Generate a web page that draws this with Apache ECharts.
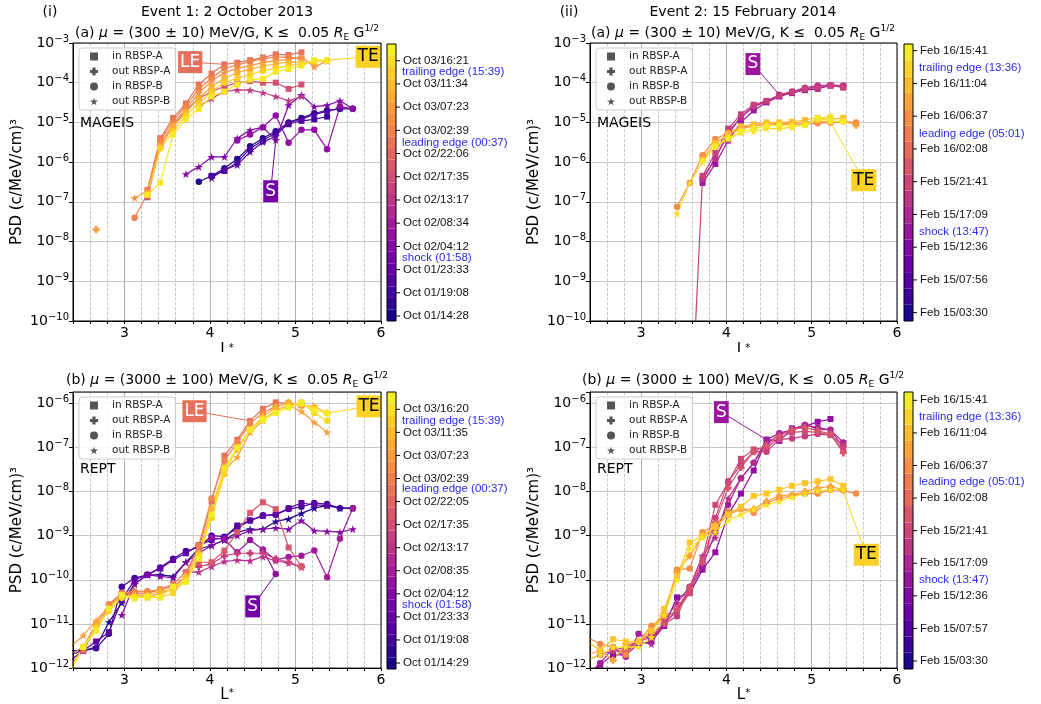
<!DOCTYPE html>
<html>
<head>
<meta charset="utf-8">
<script src="https://cdn.jsdelivr.net/npm/echarts@6/dist/echarts.min.js"></script>
<style>html,body{margin:0;padding:0;background:#fff}#chart{width:1041px;height:704px}</style>
</head>
<body>
<div id="chart"></div>
<script>
const _ = null;
// L* bins: MAGEIS panels, and REPT panels (one extra bin below the axis start)
const lStar = [2.52, 2.67, 2.82, 2.97, 3.12, 3.27, 3.42, 3.57, 3.72, 3.87, 4.02, 4.17, 4.32, 4.47, 4.62, 4.77, 4.92, 5.07, 5.22, 5.37, 5.52, 5.67];
const lStarR = [2.37, 2.52, 2.67, 2.82, 2.97, 3.12, 3.27, 3.42, 3.57, 3.72, 3.87, 4.02, 4.17, 4.32, 4.47, 4.62, 4.77, 4.92, 5.07, 5.22, 5.37, 5.52, 5.67];

// Event 1, MAGEIS, 300 MeV/G
const m1_e1 = [_,_,_,_,_,_,_,_,_, 3.2e-7, 4.5e-7, 7e-7, 1.2e-6, 2.5e-6, 4e-6, 6e-6, 1e-5, 1.3e-5, 1.7e-5, 2e-5, 2.2e-5, 2.2e-5];
const m1_e2 = [_,_,_,_,_,_,_,_,_,_, 4.5e-7, 6e-7, 1e-6, 2.2e-6, 3.5e-6, 5.5e-6, 9e-6, 1.1e-5, 1.2e-5, 1.4e-5];
const m1_e3 = [_,_,_,_,_,_,_,_,_,_, 4e-7, 6.5e-7, 8.5e-7, 1.8e-6, 3.2e-6, 4.5e-6, 1e-5, 1.2e-5, 1.6e-5, 1.9e-5, 2.3e-5];
const m1_e4 = [_,_,_,_,_,_,_,_, 5e-7, 7.6e-7, 1.35e-6, 1.35e-6, 4e-6, 6.4e-6, 7.6e-6, 3.6e-6, 2.7e-5, 4.9e-5, 2.5e-5, 2.7e-5, 3.5e-5, 2.2e-5];
const m1_e5 = [_,_,_,_,_,_,_,_,_,_,_,_, 3.5e-6, 5e-6, 7.6e-6, 1.5e-5, 3.1e-6, 6.5e-6, 6.5e-6, 2.1e-6, 2.5e-5, 2.2e-5];
const m1_p2 = [_,_,_,_,_,_,_,_,_, 2.5e-5, 4e-5, 6e-5, 6.6e-5, 6.5e-5, 5.6e-5, 4.5e-5, 3.5e-5, 4.5e-5];
const m1_p1 = [_,_,_,_,_, 1.3e-7, 2.5e-6, 8e-6, 2e-5, 4e-5, 6e-5, 8e-5, 1e-4, 1.1e-4, 1e-4, 1e-4, 7e-5, 9e-5];
const m1_l1 = [_,_,_,_,_, 2e-7, 4e-6, 1.3e-5, 3e-5, 9e-5, 1.7e-4, 2.9e-4, 3.2e-4, 3.7e-4, 4.3e-4, 5.2e-4, 5e-4, 5.8e-4];
const m1_l2 = [_,_,_,_, 4e-8, 1.6e-7, 3.5e-6, 1.1e-5, 2.6e-5, 7e-5, 1.3e-4, 2.3e-4, 2.8e-4, 3.4e-4, 4e-4, 4.4e-4, 4.4e-4, 4e-4];
const m1_l3 = [_,_,_,_, 1.25e-7, 1.9e-7, 3e-6, 9e-6, 2.2e-5, 5.5e-5, 1.1e-4, 1.8e-4, 2.3e-4, 2.7e-4, 3.2e-4, 3.6e-4, 3.8e-4, 4.5e-4, 2.5e-4, 3.5e-4];
const m1_l4 = [_, 2e-8];
const m1_l5 = [_,_,_,_,_, 1.6e-7, 2.5e-6, 8e-6, 1.8e-5, 4e-5, 8e-5, 1.3e-4, 1.8e-4, 2.2e-4, 2.6e-4, 3e-4, 3.3e-4, 3.2e-4, 3.3e-4];
const m1_l6 = [_,_,_,_,_, 1.5e-7, 2.2e-6, 6e-6, 1.5e-5, 3e-5, 6e-5, 1e-4, 1.3e-4, 1.6e-4, 2e-4, 2.3e-4, 2.7e-4, 3e-4, 3.5e-4, 3.5e-4];
const m1_l7 = [_,_,_,_,_, 1.5e-7, 3e-7, 5e-6, 1.2e-5, 2.2e-5, 4.5e-5, 6e-5, 9e-5, 1.2e-4, 1.25e-4, 1.9e-4, 2.2e-4, 2.7e-4, 3.7e-4, 3.7e-4];

// Event 2, MAGEIS, 300 MeV/G
const m2_u1 = [_,_,_,_,_,_,_,_, 3e-7, 9e-7, 3.5e-6, 1e-5, 2e-5, 3.2e-5, 4.5e-5, 5.5e-5, 6.5e-5, 7e-5, 8.5e-5, 8e-5];
const m2_u4 = [_,_,_,_,_,_,_,_, 3.5e-7, 1.3e-6, 5e-6, 1.4e-5, 2.6e-5, 3.3e-5, 4.7e-5, 5.5e-5, 7e-5, 8e-5, 8.5e-5, 8e-5];
const m2_u2 = [_,_,_,_,_,_,_,_, 4e-7, 1.2e-6, 6e-6, 1.3e-5, 2.5e-5, 3.4e-5, 5e-5, 6e-5, 7.5e-5, 8.5e-5, 8.8e-5, 8.5e-5];
const m2_u3 = [_,_,_,_,_,_,_, 7e-14, 4.5e-7, 1.7e-6, 7e-6, 1.6e-5, 2.8e-5, 3.5e-5, 4.8e-5, 5.8e-5, 7e-5, 7.5e-5, 8.5e-5, 7.5e-5];
const m2_d1 = [_,_,_,_,_,_, 7.5e-8, 3e-7, 1.5e-6, 3.8e-6, 5.5e-6, 7.5e-6, 8.5e-6, 9e-6, 9e-6, 9e-6, 9e-6, 9.5e-6, 1e-5, 1.05e-5, 1e-5];
const m2_d2 = [_,_,_,_,_,_,_,_, 1.2e-6, 3e-6, 5e-6, 7e-6, 8e-6, 9e-6, 9.5e-6, 9.5e-6, 1e-5, 1.1e-5, 1e-5, 1.1e-5, 8.5e-6];
const m2_d3 = [_,_,_,_,_,_,_,_,_, 3e-6, 5e-6, 8e-6, 9e-6, 1e-5, 1e-5, 1.05e-5, 1.15e-5, 1.3e-5, 1.2e-5, 1.3e-5];
const m2_d4 = [_,_,_,_,_,_, 5e-8, 3e-7, 1e-6, 2.5e-6, 3.8e-6, 5.5e-6, 6e-6, 7e-6, 7e-6, 7.5e-6, 9e-6, 1.2e-5, 1.5e-5];
const m2_d5 = [_,_,_,_,_,_,_,_, 1.1e-6, 2.5e-6, 4e-6, 6e-6, 7e-6, 8e-6, 8.5e-6, 8e-6, 8.5e-6, 1.25e-5, 1.1e-5, 1.05e-5];

// Event 1, REPT, 3000 MeV/G (first value at L*=2.37)
const r1_e1 = [2.5e-12, 2.5e-12, 3e-12, 1.1e-11, 3e-11, 8e-11, 1.3e-10, 1.3e-10, 1.2e-10, 2.5e-10, 5e-10, 6e-10, 8e-10, 1.2e-9, 1.4e-9, 1.4e-9, 2.1e-9, 2.4e-9, 3.2e-9, 4.2e-9, 4.8e-9, 4.2e-9, 4.2e-9];
const r1_e2 = [2e-12, 2.5e-12, 2.8e-12, 6e-12, 7e-11, 1.1e-10, 1.3e-10, 1.9e-10, 3e-10, 4.5e-10, 5.5e-10, 1e-9, 9.5e-10, 1.5e-9, 2.2e-9, 2.9e-9, 3e-9, 4e-9, 4.5e-9, 5.5e-9, 5.2e-9, 4.2e-9, 4.2e-9];
const r1_e3 = [1.5e-12, 2.5e-12, 4e-12, 6.5e-12, 3.5e-11, 1e-10, 1.3e-10, 1.8e-10, 2.8e-10, 4e-10, 6e-10, 8e-10, 9e-10, 1.7e-9, 2.2e-9, 2.8e-9, 3e-9, 4.2e-9, 5.5e-9, 5e-9, 4.8e-9];
const r1_e4 = [_,_,_,_, 1.6e-11, 8e-11, 1.3e-10, 1.2e-10, 1.1e-10, 2.5e-10, 4e-10, 6e-10, 8e-10, 1e-9, 1.3e-9, 1.4e-9, 1.5e-9, 1.4e-9, 2.2e-9, 1.3e-9, 1.25e-9, 1.2e-9, 1.4e-9];
const r1_e5 = [_,_,_,_,_,_,_,_,_,_, 6e-10, 9e-10, 8.3e-10, 4.2e-10, 8e-10, 4.8e-10, 1.35e-10];
const r1_e6 = [_,_,_,_,_,_,_,_,_,_,_,_,_,_,_, 4.8e-10, 2.8e-10, 3.3e-10, 3.5e-10, 4.6e-10, 1.15e-10, 8.5e-10, 4.2e-9];
const r1_m3 = [_,_,_,_,_,_,_,_,_, 1.5e-10, 1.5e-10, 2e-10, 2.6e-10, 2.8e-10, 2.7e-10, 3.3e-10, 2.7e-10, 2.4e-10, 1.9e-10];
const r1_m2 = [_,_,_,_,_,_,_,_,_,_, 2e-10, 2.3e-10, 3.5e-10, 4e-10, 4e-10, 4e-10, 3e-10, 2.5e-10, 2e-10];
const r1_m1 = [_,_,_,_,_,_,_,_,_,_, 2.5e-10, 2.5e-10, 4.6e-10, 1.2e-9, 3.3e-9, 5.7e-9, 4e-9, 5.4e-10, 2e-10];
const r1_l1 = [1.2e-12, 2.5e-12, 8e-12, 2.5e-11, 5e-11, 5e-11, 5e-11, 6e-11, 8e-11, 1.5e-10, 5e-10, 6e-9, 6.5e-8, 1.5e-7, 4e-7, 7.5e-7, 1.05e-6, 1e-6, 9e-7];
const r1_l2 = [2e-12, 3e-12, 1e-11, 2.8e-11, 5e-11, 5.5e-11, 5.5e-11, 6e-11, 7e-11, 1.2e-10, 6e-10, 7e-9, 5e-8, 1.3e-7, 3.5e-7, 6e-7, 8.5e-7, 1e-6, 9e-7];
const r1_l3 = [3e-12, 5.5e-12, 1.2e-11, 2.5e-11, 4.5e-11, 4.5e-11, 4e-11, 5e-11, 6e-11, 1e-10, 3e-10, 3e-9, 3e-8, 6e-8, 2.2e-7, 4e-7, 7e-7, 9e-7, 6.5e-7, 3.7e-7, 2.2e-7];
const r1_l4 = [_,_, 9e-12, 2e-11, 4e-11, 4.5e-11, 4.5e-11, 5.5e-11, 6e-11, 1.2e-10, 4e-10, 4e-9, 3.5e-8, 9e-8, 2.5e-7, 5e-7, 8e-7, 1.05e-6, 9e-7, 8.5e-7, 6e-7];
const r1_l5 = [1e-12, 3e-12, 8e-12, 2e-11, 4e-11, 4e-11, 4e-11, 4e-11, 5e-11, 1e-10, 3.5e-10, 2.5e-9, 2.5e-8, 1e-7, 2.5e-7, 4.5e-7, 6e-7, 8.5e-7, 1.05e-6, 6e-7, 4e-7];
const r1_l6 = [8e-13, 3e-12, 7e-12, 2.2e-11, 4.5e-11, 3.8e-11, 4.2e-11, 4e-11, 7e-11, 9e-11, 3e-10, 3e-9, 3.3e-8, 1e-7, 2.5e-7, 4.2e-7, 6e-7, 8e-7, 1e-6, 7e-7, 6e-7];

// Event 2, REPT, 3000 MeV/G (first value at L*=2.37)
const r2_u1 = [6e-13, 1.2e-12, 2e-12, 2e-12, 3.5e-12, 4e-12, 9e-12, 4e-11, 5e-11, 1.7e-10, 4.2e-10, 3e-9, 9e-9, 3e-8, 1.5e-7, 1.4e-7, 2.7e-7, 3e-7, 3.8e-7, 4.4e-7];
const r2_u2 = [7e-13, 1.3e-12, 2.8e-12, 1.8e-12, 6e-12, 4.5e-12, 1e-11, 2e-11, 6e-11, 2e-10, 1.2e-9, 5e-9, 2e-8, 4.5e-8, 1.5e-7, 2.1e-7, 2.5e-7, 3.2e-7, 2.8e-7, 2.5e-7, 1.3e-7];
const r2_u3 = [_,_, 2.5e-12, 3e-12, 4e-12, 3.5e-12, 1.2e-11, 3e-11, 7e-11, 3.5e-10, 9e-10, 7e-9, 2e-8, 4.5e-8, 1.2e-7, 2e-7, 2.5e-7, 3.3e-7, 2.6e-7, 2.5e-7, 1e-7];
const r2_u4 = [1.5e-12, 2e-12, 2.5e-12, 2.5e-12, 4e-12, 5e-12, 1e-11, 1.5e-11, 7e-11, 2.5e-10, 2.5e-9, 1.7e-8, 4e-8, 8e-8, 8e-8, 1.5e-7, 1.6e-7, 1.8e-7, 2e-7, 1.9e-7, 1.1e-7];
const r2_u5 = [_,_,_,_,_,_, 1.4e-11, 2e-11, 5e-11, 3e-10, 5e-9, 1.6e-8, 5.5e-8, 9e-8, 1e-7, 1.6e-7, 2.2e-7, 2.3e-7, 2.2e-7, 1.9e-7, 9e-8];
const r2_u6 = [_,_,_, 2.5e-12, 4e-12, 6e-12, 1e-11, 2.2e-11, 6.5e-11, 2.5e-10, 2e-9, 1.2e-8, 3.5e-8, 8e-8, 1.1e-7, 1.8e-7, 2.6e-7, 2.8e-7, 2.4e-7, 2e-7, 7.5e-8];
const r2_d1 = [5e-12, 3.5e-12, 3e-12, 2e-12, 4e-12, 9e-12, 1.5e-11, 1.7e-10, 1.8e-10, 1.2e-9, 1.8e-9, 3.5e-9, 4e-9, 3.3e-9, 5.5e-9, 7e-9, 8e-9, 9e-9, 9e-9, 1.1e-8, 1.05e-8, 9e-9];
const r2_d2 = [2e-12, 2.5e-12, 1.5e-12, 3.5e-12, 4e-12, 7e-12, 1.7e-11, 1.5e-10, 3.5e-10, 1e-9, 1.5e-9, 3e-9, 4e-9, 4e-9, 6e-9, 8e-9, 8.5e-9, 1e-8, 1.2e-8, 1.3e-8, 1.1e-8];
const r2_d3 = [4e-12, 2.5e-12, 4.5e-12, 4e-12, 4e-12, 7e-12, 2.2e-11, 1.2e-10, 7e-10, 1e-9, 1.6e-9, 3e-9, 4.5e-9, 8e-9, 9e-9, 1.1e-8, 1.35e-8, 1.55e-8, 1.7e-8, 1.9e-8, 1.35e-8];
const r2_d4 = [1.5e-12, 2e-12, 3e-12, 3e-12, 3e-12, 5e-12, 1.6e-11, 1e-10, 5e-10, 9e-10, 1.2e-9, 2.2e-9, 3e-9, 4e-9, 5e-9, 6e-9, 7.5e-9, 9e-9, 1.05e-8, 1.1e-8, 1.1e-8];

// [values, time position on colour bar (0..1), marker]
const runs1 = [[m1_e1,.04,'ci'],[m1_e2,.1,'sq'],[m1_e3,.15,'st'],[m1_e4,.26,'st'],[m1_e5,.3,'ci'],[m1_p2,.45,'st'],[m1_p1,.53,'sq'],
  [m1_l1,.64,'sq'],[m1_l2,.69,'ci'],[m1_l3,.74,'st'],[m1_l4,.77,'pl'],[m1_l5,.82,'sq'],[m1_l6,.9,'ci'],[m1_l7,.96,'sq']];
const runs2 = [[m2_u1,.33,'sq'],[m2_u4,.38,'st'],[m2_u2,.43,'ci'],[m2_u3,.48,'sq'],
  [m2_d1,.72,'ci'],[m2_d2,.78,'pl'],[m2_d3,.86,'sq'],[m2_d4,.93,'st'],[m2_d5,.97,'ci']];
const runs3 = [[r1_e1,.04,'st'],[r1_e2,.1,'ci'],[r1_e3,.17,'sq'],[r1_e4,.27,'st'],[r1_e5,.31,'ci'],[r1_e6,.35,'ci'],
  [r1_m3,.42,'st'],[r1_m2,.48,'pl'],[r1_m1,.56,'sq'],
  [r1_l1,.64,'sq'],[r1_l2,.7,'ci'],[r1_l3,.78,'st'],[r1_l4,.84,'pl'],[r1_l5,.92,'ci'],[r1_l6,.97,'sq']];
const runs4 = [[r2_u1,.3,'sq'],[r2_u2,.36,'ci'],[r2_u3,.41,'st'],[r2_u4,.47,'ci'],[r2_u5,.51,'sq'],[r2_u6,.55,'pl'],
  [r2_d1,.72,'ci'],[r2_d2,.78,'pl'],[r2_d3,.88,'sq'],[r2_d4,.95,'st']];

// colour bar labels (bottom to top) and their ranges in label units
const cb1Ticks = ['Oct 01/14:28','Oct 01/19:08','Oct 01/23:33','Oct 02/04:12','Oct 02/08:34','Oct 02/13:17','Oct 02/17:35','Oct 02/22:06','Oct 03/02:39','Oct 03/07:23','Oct 03/11:34','Oct 03/16:21'];
const cb2Ticks = ['Feb 15/03:30','Feb 15/07:56','Feb 15/12:36','Feb 15/17:09','Feb 15/21:41','Feb 16/02:08','Feb 16/06:37','Feb 16/11:04','Feb 16/15:41'];
const cb3Ticks = ['Oct 01/14:29','Oct 01/19:08','Oct 01/23:33','Oct 02/04:12','Oct 02/08:35','Oct 02/13:17','Oct 02/17:35','Oct 02/22:05','Oct 03/02:39','Oct 03/07:23','Oct 03/11:35','Oct 03/16:20'];
const cb4Ticks = ['Feb 15/03:30','Feb 15/07:57','Feb 15/12:36','Feb 15/17:09','Feb 15/21:41','Feb 16/02:08','Feb 16/06:37','Feb 16/11:04','Feb 16/15:41'];
const cb1Notes = [['shock (01:58)', 2.51], ['leading edge (00:37)', 7.46], ['trailing edge (15:39)', 10.5]];
const cb2Notes = [['shock (13:47)', 2.46], ['leading edge (05:01)', 5.46], ['trailing edge (13:36)', 7.49]];
const cb3Notes = [['shock (01:58)', 2.53], ['leading edge (00:37)', 7.55], ['trailing edge (15:39)', 10.5]];
const cb4Notes = [['shock (13:47)', 2.5], ['leading edge (05:01)', 5.49], ['trailing edge (13:36)', 7.48]];
const cbRange = [[-0.215, 11.72], [-0.255, 8.204], [-0.26, 11.75], [-0.245, 8.255]];
const cbBands = [24, 17, 24, 17];

// ---------- styling helpers ----------
const FONT = 'DejaVu Sans';
const PLUS = 'path://M3,0H7V3H10V7H7V10H3V7H0V3H3Z';
const STAR = 'path://M100,0L122,69L195,69L136,112L159,181L100,138L41,181L64,112L5,69L78,69Z';
const SYM = {sq: 'rect', pl: PLUS, ci: 'circle', st: STAR};
const SSZ = {sq: 6, pl: 7, ci: 6.5, st: [8.5, 8]};
const stops = ['#0d0887','#41049d','#6a00a8','#8f0da4','#b12a90','#cc4778','#e16462','#f2844b','#fca636','#fcce25','#f0f921'];
function hex(h) { return [1, 3, 5].map(i => parseInt(h.substr(i, 2), 16)); }
function plasma(t) {
  t = Math.max(0, Math.min(1, t));
  const p = t * 10, i = Math.min(9, Math.floor(p)), f = p - i;
  const a = hex(stops[i]), b = hex(stops[i + 1]);
  return 'rgb(' + a.map((c, j) => Math.round(c + (b[j] - c) * f)).join(',') + ')';
}
function powLabel(v) {
  const e = Math.log10(v), r = Math.round(e);
  if (Math.abs(e - r) > 1e-6) return '';
  return '{b|10}{e|' + String(r).replace('-', '\u2212') + '}';
}
function intLabel(v) { return Math.abs(v - Math.round(v)) < 1e-6 ? String(Math.round(v)) : ''; }

const plots = [
  {left: 73, top: 43, width: 308, height: 278, ymin: 1e-10, ymax: 1e-3},
  {left: 590, top: 43, width: 307, height: 278, ymin: 1e-10, ymax: 1e-3},
  {left: 73, top: 392, width: 308, height: 277, ymin: 1e-12, ymax: 1.8e-6},
  {left: 590, top: 392, width: 307, height: 277, ymin: 1e-12, ymax: 1.8e-6}
];
const bars = [
  {left: 387, top: 44, width: 9, height: 277},
  {left: 904, top: 44, width: 9, height: 277},
  {left: 387, top: 392, width: 9, height: 277},
  {left: 904, top: 392, width: 9, height: 277}
];
const allRuns = [runs1, runs2, runs3, runs4];
const allL = [lStar, lStar, lStarR, lStarR];
const allTicks = [cb1Ticks, cb2Ticks, cb3Ticks, cb4Ticks];
const allNotes = [cb1Notes, cb2Notes, cb3Notes, cb4Notes];

// boxed labels: [panel, text, box L, box PSD, target L, target PSD, background, text colour]
const LEc = '#e6705c', TEc = '#fbd125', S1c = '#7201a8', S2c = '#9c179e';
const boxes = [
  [0, 'LE', 3.77, 3.3e-4, 4.17, 2.9e-4, LEc, '#fff'],
  [0, 'TE', 5.85, 4.5e-4, 5.37, 3.7e-4, TEc, '#000'],
  [0, 'S', 4.71, 1.85e-7, 4.77, 3.6e-6, S1c, '#fff'],
  [1, 'S', 4.31, 2.95e-4, 4.62, 5e-5, S2c, '#fff'],
  [1, 'TE', 5.61, 3.5e-7, 5.22, 1e-5, TEc, '#000'],
  [2, 'LE', 3.82, 6.6e-7, 4.47, 4e-7, LEc, '#fff'],
  [2, 'TE', 5.86, 8.5e-7, 5.37, 6e-7, TEc, '#000'],
  [2, 'S', 4.5, 2.5e-11, 4.77, 1.35e-10, S1c, '#fff'],
  [3, 'S', 3.94, 6.3e-7, 4.47, 1.5e-7, S2c, '#fff'],
  [3, 'TE', 5.64, 3.7e-10, 5.37, 1e-8, TEc, '#000']
];

const grid = [], xAxis = [], yAxis = [], series = [], legend = [];

plots.forEach((p, i) => {
  grid.push({left: p.left, top: p.top, width: p.width, height: p.height, show: true, borderColor: '#000', borderWidth: 1, backgroundColor: 'transparent', z: 10});
  xAxis.push({
    gridIndex: i, type: 'value', min: 2.4, max: 6, interval: 0.2,
    name: 'L{s|*}', nameLocation: 'middle', nameGap: i < 2 ? 22 : 19,
    nameTextStyle: {fontSize: 15, color: '#000', fontFamily: FONT, rich: {s: {fontSize: 10, verticalAlign: 'top', fontFamily: FONT}}},
    axisLine: {show: true, lineStyle: {color: '#000'}},
    axisTick: {show: true, length: 3, lineStyle: {color: '#000'}},
    axisLabel: {formatter: intLabel, fontSize: 14, color: '#000', margin: 5, fontFamily: FONT},
    splitLine: {show: true, lineStyle: {color: '#bbbbbb', type: 'dashed', width: 0.8}}
  });
  yAxis.push({
    gridIndex: i, type: 'log', logBase: 10, min: p.ymin, max: p.ymax, splitNumber: 7,
    name: 'PSD (c/MeV/cm)³', nameLocation: 'middle', nameGap: 48,
    nameTextStyle: {fontSize: 15, color: '#000', fontFamily: FONT},
    axisLine: {show: true, lineStyle: {color: '#000'}},
    axisTick: {show: true, length: 4, lineStyle: {color: '#000'}},
    axisLabel: {formatter: powLabel, color: '#000', margin: 4, fontFamily: FONT,
      rich: {b: {fontSize: 14, lineHeight: 18, fontFamily: FONT, color: '#000'},
             e: {fontSize: 10, lineHeight: 11, verticalAlign: 'top', fontFamily: FONT, color: '#000'}}},
    splitLine: {show: true, lineStyle: {color: '#c8c8c8', width: 1}}
  });
});

bars.forEach((b, i) => {
  grid.push({left: b.left, top: b.top, width: b.width, height: b.height, show: true, borderColor: '#000', borderWidth: 1, backgroundColor: 'transparent', z: 10});
  xAxis.push({gridIndex: 4 + i, type: 'value', min: 0, max: 1, show: false});
});
bars.forEach((b, i) => {
  yAxis.push({gridIndex: 4 + i, type: 'category', show: false, data: Array.from({length: cbBands[i]}, (_, k) => k)});
});
bars.forEach((b, i) => {
  yAxis.push({gridIndex: 4 + i, type: 'value', show: false, min: cbRange[i][0], max: cbRange[i][1]});
});

plots.forEach((p, i) => {
  // integer grid lines
  series.push({
    type: 'line', xAxisIndex: i, yAxisIndex: i, data: [], z: 1, silent: true,
    markLine: {silent: true, symbol: ['none', 'none'], label: {show: false}, z: 1,
      lineStyle: {color: '#b0b0b0', type: 'solid', width: 1}, data: [{xAxis: 3}, {xAxis: 4}, {xAxis: 5}]}
  });
  const ls = allL[i];
  allRuns[i].forEach(([vals, t, mk]) => {
    const c = plasma(t);
    series.push({
      type: 'line', xAxisIndex: i, yAxisIndex: i,
      data: vals.map((v, k) => v == null ? null : [ls[k], v]).filter(d => d),
      symbol: SYM[mk], symbolSize: SSZ[mk], showSymbol: true,
      lineStyle: {width: 1.2, color: c}, itemStyle: {color: c}, z: 3, silent: true
    });
  });
  ['in RBSP-A', 'out RBSP-A', 'in RBSP-B', 'out RBSP-B'].forEach((n, k) => {
    series.push({type: 'scatter', name: n, xAxisIndex: i, yAxisIndex: i, data: [], symbol: SYM[['sq', 'pl', 'ci', 'st'][k]], itemStyle: {color: '#555', opacity: 1}});
  });
  legend.push({
    left: p.left + 6, top: p.top + 5, orient: 'vertical', selectedMode: false,
    data: [{name: 'in RBSP-A', icon: 'rect'}, {name: 'out RBSP-A', icon: PLUS}, {name: 'in RBSP-B', icon: 'circle'}, {name: 'out RBSP-B', icon: STAR}],
    itemWidth: 8, itemHeight: 8, itemGap: 4, padding: [3, 5, 3, 11],
    textStyle: {fontSize: 10.5, fontFamily: FONT, color: '#222', lineHeight: 11, padding: [0, 0, 0, 9]},
    backgroundColor: 'rgba(255,255,255,0.85)', borderColor: '#cccccc', borderWidth: 1, borderRadius: 3
  });
});

bars.forEach((b, i) => {
  const n = cbBands[i];
  series.push({
    type: 'bar', xAxisIndex: 4 + i, yAxisIndex: 4 + i, barCategoryGap: '0%', silent: true, z: 1,
    data: Array.from({length: n}, (_, k) => ({value: 1, itemStyle: {color: plasma((k + 0.5) / n)}}))
  });
  series.push({
    type: 'scatter', xAxisIndex: 4 + i, yAxisIndex: 8 + i, clip: false, silent: true, z: 5,
    symbol: 'rect', symbolSize: [4, 1], symbolOffset: [2, 0], itemStyle: {color: '#000', opacity: 1},
    data: allTicks[i].map((t, k) => ({name: t, value: [1, k]})),
    label: {show: true, position: 'right', distance: 3, formatter: '{b}', fontSize: 11.5, fontFamily: 'Liberation Sans', color: '#111'}
  });
  series.push({
    type: 'scatter', xAxisIndex: 4 + i, yAxisIndex: 8 + i, clip: false, silent: true, z: 5,
    symbolSize: 0, itemStyle: {opacity: 1},
    data: allNotes[i].map(([t, v]) => ({name: t, value: [1, v]})),
    label: {show: true, position: 'right', distance: 6, formatter: '{b}', fontSize: 11.5, fontFamily: 'Liberation Sans', color: '#2a2af0'}
  });
});

boxes.forEach(([g, txt, bx, by, px, py, bg, fg]) => {
  series.push({
    type: 'line', xAxisIndex: g, yAxisIndex: g, data: [[bx, by], [px, py]], symbol: 'none', silent: true, z: 4,
    lineStyle: {color: bg, width: 1}
  });
  series.push({
    type: 'scatter', xAxisIndex: g, yAxisIndex: g, data: [[bx, by]], symbolSize: 0, clip: false, silent: true, z: 6,
    itemStyle: {opacity: 1},
    label: {show: true, position: 'inside', formatter: txt, fontSize: 17, fontFamily: FONT, color: fg,
      backgroundColor: bg, padding: [2, 2, 1, 2], lineHeight: 19}
  });
});

const sub = {
  i: {fontSize: 14, fontStyle: 'italic', fontFamily: FONT, lineHeight: 18},
  n: {fontSize: 14, fontFamily: FONT, lineHeight: 18},
  sub: {fontSize: 9, fontFamily: FONT, verticalAlign: 'bottom', lineHeight: 18},
  sup: {fontSize: 9, fontFamily: FONT, verticalAlign: 'top', lineHeight: 18}
};
function subtitle(x, y, head, mu) {
  return {type: 'text', x: x, y: y, z: 20, style: {
    text: '{n|' + head + ' }{i|μ}{n| = ' + mu + ' MeV/G, K ≤  0.05 }{i|R}{sub|E}{n| G}{sup|1/2}',
    rich: sub, align: 'center', verticalAlign: 'middle', fill: '#000'}};
}
function txt(x, y, s, size) {
  return {type: 'text', x: x, y: y, z: 20, style: {text: s, font: size + 'px "DejaVu Sans"', fill: '#000', align: 'center', verticalAlign: 'middle'}};
}
const graphic = [
  txt(50, 12, '(i)', 14), txt(227, 12, 'Event 1: 2 October 2013', 14),
  txt(569, 12, '(ii)', 14), txt(743, 12, 'Event 2: 15 February 2014', 14),
  subtitle(227, 33, '(a)', '(300 ± 10)'), subtitle(743, 33, '(a)', '(300 ± 10)'),
  subtitle(227, 380, '(b)', '(3000 ± 100)'), subtitle(743, 380, '(b)', '(3000 ± 100)'),
  {type: 'text', x: 80, y: 123, z: 20, style: {text: 'MAGEIS', font: '14px "DejaVu Sans"', fill: '#000', verticalAlign: 'middle'}},
  {type: 'text', x: 597, y: 123, z: 20, style: {text: 'MAGEIS', font: '14px "DejaVu Sans"', fill: '#000', verticalAlign: 'middle'}},
  {type: 'text', x: 80, y: 469, z: 20, style: {text: 'REPT', font: '14px "DejaVu Sans"', fill: '#000', verticalAlign: 'middle'}},
  {type: 'text', x: 597, y: 469, z: 20, style: {text: 'REPT', font: '14px "DejaVu Sans"', fill: '#000', verticalAlign: 'middle'}},
  {type: 'rect', z: 30, shape: {x: 150, y: 352, width: 160, height: 12}, style: {fill: '#fff'}},
  {type: 'rect', z: 30, shape: {x: 666, y: 352, width: 160, height: 12}, style: {fill: '#fff'}}
];

const chart = echarts.init(document.getElementById('chart'));
chart.setOption({
  animation: false,
  backgroundColor: '#fff',
  textStyle: {fontFamily: FONT},
  grid: grid, xAxis: xAxis, yAxis: yAxis, legend: legend, series: series, graphic: graphic
});
</script>
</body>
</html>
